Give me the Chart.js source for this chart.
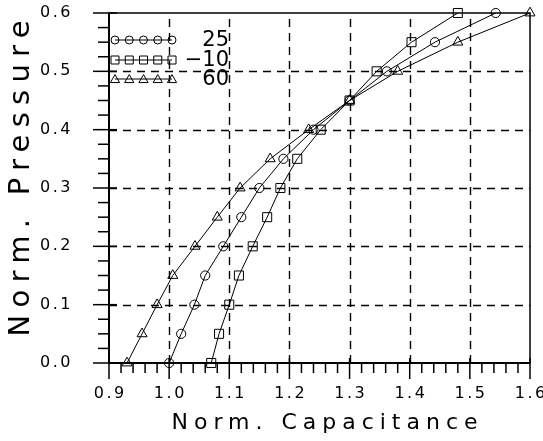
<!DOCTYPE html>
<html><head><meta charset="utf-8">
<script src="https://cdn.jsdelivr.net/npm/chart.js@4.4.1/dist/chart.umd.min.js"></script>
<style>html,body{margin:0;padding:0;background:#fff}#wrap{width:543px;height:441px}</style>
</head><body><div id="wrap"><canvas id="c" width="543" height="441"></canvas></div>
<script>
// ---- data ----
const pressure   = [0.00, 0.05, 0.10, 0.15, 0.20, 0.25, 0.30, 0.35, 0.40, 0.45, 0.50, 0.55, 0.60];
const cap25      = [1.000, 1.020, 1.042, 1.060, 1.090, 1.120, 1.150, 1.190, 1.240, 1.300, 1.362, 1.442, 1.543];
const capMinus10 = [1.070, 1.083, 1.100, 1.116, 1.139, 1.163, 1.185, 1.213, 1.252, 1.300, 1.345, 1.403, 1.480];
const cap60      = [0.930, 0.955, 0.980, 1.006, 1.043, 1.080, 1.118, 1.168, 1.232, 1.300, 1.380, 1.480, 1.600];
const seriesLabels = ['25', '\u221210', '60'];
const xTicks = [0.9, 1.0, 1.1, 1.2, 1.3, 1.4, 1.5, 1.6];
const xTickLabels = ['0.9', '1.0', '1.1', '1.2', '1.3', '1.4', '1.5', '1.6'];
const yTicks = [0.0, 0.1, 0.2, 0.3, 0.4, 0.5, 0.6];
const yTickLabels = ['0.0', '0.1', '0.2', '0.3', '0.4', '0.5', '0.6'];
const xTitle = 'Norm. Capacitance';
const yTitle = 'Norm. Pressure';

const FONT = "'DejaVu Sans', sans-serif";
const toXY = (xs) => xs.map((v, i) => ({x: v, y: pressure[i]}));

function wrapDraw(scale, method, getSp, dx, dy) {
  if (!scale || scale['_sp_' + method]) return;
  const orig = scale[method].bind(scale);
  scale[method] = function (...args) {
    const c = scale.ctx;
    c.save();
    c.translate(dx || 0, dy || 0);
    c.letterSpacing = getSp() + 'px';
    try { orig(...args); } finally { c.restore(); }
  };
  scale['_sp_' + method] = true;
}

function spacingFor(ctx, text, font, target) {
  ctx.save();
  ctx.letterSpacing = '0px';
  ctx.font = font;
  const w = ctx.measureText(text).width;
  ctx.restore();
  return Math.max(0, (target - w) / (text.length - 1));
}

function marker(ctx, style, x, y, r) {
  ctx.beginPath();
  if (style === 'circle') {
    ctx.arc(x, y, r, 0, Math.PI * 2);
  } else if (style === 'rect') {
    ctx.rect(x - r, y - r, 2 * r, 2 * r);
  } else {
    ctx.moveTo(x, y - r * 1.05);
    ctx.lineTo(x + r * 1.1, y + r * 0.85);
    ctx.lineTo(x - r * 1.1, y + r * 0.85);
    ctx.closePath();
  }
  ctx.stroke();
}

const framePlugin = {
  id: 'frame',
  beforeDraw(chart) {
    const {ctx} = chart;
    const {x, y} = chart.scales;
    const xsp = spacingFor(ctx, xTitle, '22px ' + FONT, 306);
    const ysp = spacingFor(ctx, yTitle, '29px ' + FONT, 316);
    chart.$sp = {xsp, ysp};
    wrapDraw(x, 'drawLabels', () => 2.5, 1.2, 0);
    wrapDraw(y, 'drawLabels', () => 2.5, 0, 0);
    wrapDraw(x, 'drawTitle', () => chart.$sp.xsp, 5 + xsp / 2, 0);
    wrapDraw(y, 'drawTitle', () => chart.$sp.ysp, 0, -9.5 - ysp / 2);
  },
  beforeDatasetsDraw(chart) {
    const {ctx, chartArea: a, scales: {x, y}} = chart;
    ctx.save();
    ctx.strokeStyle = '#000';
    ctx.lineWidth = 1.4;
    ctx.setLineDash([8, 6]);
    xTicks.slice(1, -1).forEach(v => {
      const px = Math.round(x.getPixelForValue(v)) + 0.5;
      ctx.beginPath(); ctx.moveTo(px, a.bottom); ctx.lineTo(px, a.top); ctx.stroke();
    });
    yTicks.slice(1, -1).forEach(v => {
      const py = Math.round(y.getPixelForValue(v)) + 0.5;
      ctx.beginPath(); ctx.moveTo(a.left, py); ctx.lineTo(a.right, py); ctx.stroke();
    });
    ctx.restore();
  },
  afterDatasetsDraw(chart) {
    const {ctx, chartArea: a, scales: {x, y}} = chart;
    ctx.save();
    ctx.strokeStyle = '#000';
    ctx.setLineDash([]);
    ctx.lineWidth = 1.5;
    ctx.strokeRect(a.left, a.top, a.right - a.left, a.bottom - a.top);
    ctx.lineWidth = 2;
    ctx.beginPath(); ctx.moveTo(a.left, a.top); ctx.lineTo(a.left, a.bottom); ctx.lineTo(a.right, a.bottom); ctx.stroke();
    ctx.lineWidth = 1.5;
    xTicks.forEach(v => {
      const px = x.getPixelForValue(v);
      ctx.beginPath(); ctx.moveTo(px, a.bottom - 5); ctx.lineTo(px, a.bottom + 16); ctx.stroke();
    });
    for (let k = 1; k < 35; k++) {
      if (k % 5 === 0) continue;
      const px = x.getPixelForValue(0.9 + k * 0.02);
      ctx.beginPath(); ctx.moveTo(px, a.bottom); ctx.lineTo(px, a.bottom + 10); ctx.stroke();
    }
    yTicks.forEach(v => {
      const py = y.getPixelForValue(v);
      ctx.beginPath(); ctx.moveTo(a.left - 16, py); ctx.lineTo(a.left + 8, py); ctx.stroke();
    });
    for (let k = 1; k < 24; k++) {
      if (k % 4 === 0) continue;
      const py = y.getPixelForValue(k * 0.025);
      ctx.beginPath(); ctx.moveTo(a.left - 11, py); ctx.lineTo(a.left, py); ctx.stroke();
    }
    // legend
    const styles = ['circle', 'rect', 'triangle'];
    const radii = [4, 4, 4.2];
    const rowsY = [a.top + 27, a.top + 47, a.top + 66];
    const mx0 = a.left + 6, mx1 = a.left + 63;
    ctx.lineWidth = 1;
    ctx.font = '21px ' + FONT;
    ctx.fillStyle = '#000';
    ctx.textAlign = 'right';
    ctx.textBaseline = 'middle';
    styles.forEach((s, i) => {
      const yy = rowsY[i];
      ctx.beginPath(); ctx.moveTo(mx0, yy); ctx.lineTo(mx1, yy); ctx.stroke();
      for (let m = 0; m < 5; m++) marker(ctx, s, mx0 + (mx1 - mx0) * m / 4, yy, radii[i]);
      ctx.fillText(seriesLabels[i], a.left + 120, yy + 1);
    });
    ctx.restore();
  }
};

const ds = (label, xs, style, r) => ({
  label, data: toXY(xs), showLine: true,
  borderColor: '#000', borderWidth: 1,
  pointStyle: style, pointRadius: r, pointHoverRadius: r,
  pointBorderColor: '#000', pointBackgroundColor: 'rgba(0,0,0,0)', pointBorderWidth: 1,
  clip: false
});

new Chart(document.getElementById('c'), {
  type: 'scatter',
  data: {
    datasets: [
      ds(seriesLabels[0], cap25, 'circle', 4.6),
      ds(seriesLabels[1], capMinus10, 'rect', 6.4),
      ds(seriesLabels[2], cap60, 'triangle', 5.8)
    ]
  },
  options: {
    responsive: false, animation: false, devicePixelRatio: 1,
    layout: {padding: {top: 13, right: 13, left: 0, bottom: 0}},
    plugins: {legend: {display: false}, tooltip: {enabled: false}},
    scales: {
      x: {
        type: 'linear', min: 0.9, max: 1.6,
        afterBuildTicks: s => { s.ticks = xTicks.map(v => ({value: v})); },
        afterFit: s => { s.height = 78; s.paddingLeft = 0; s.paddingRight = 0; },
        grid: {display: false, drawTicks: false},
        border: {display: false},
        ticks: {callback: (v, i) => xTickLabels[i], color: '#000', font: {family: FONT, size: 16},
                padding: 21, autoSkip: false, maxRotation: 0, minRotation: 0},
        title: {display: true, text: xTitle, color: '#000', font: {family: FONT, size: 22},
                padding: {top: 0, bottom: 5}}
      },
      y: {
        type: 'linear', min: 0, max: 0.6,
        afterBuildTicks: s => { s.ticks = yTicks.map(v => ({value: v})); },
        afterFit: s => { s.width = 109; s.paddingTop = 0; s.paddingBottom = 0; },
        grid: {display: false, drawTicks: false},
        border: {display: false},
        ticks: {callback: (v, i) => yTickLabels[i], color: '#000', font: {family: FONT, size: 16},
                padding: 36, autoSkip: false},
        title: {display: true, text: yTitle, color: '#000', font: {family: FONT, size: 29},
                padding: {top: 4, bottom: 0}}
      }
    }
  },
  plugins: [framePlugin]
});
</script>
</body></html>
